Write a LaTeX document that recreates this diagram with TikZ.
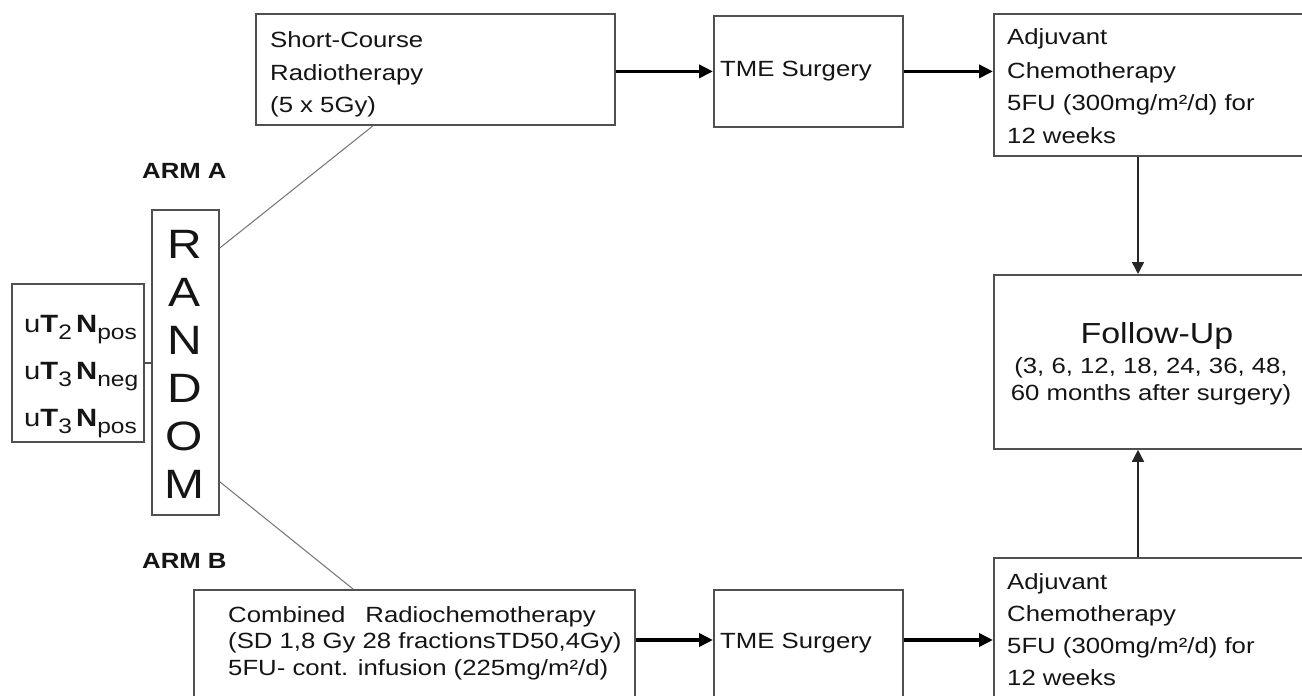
\documentclass[tikz,border=0pt]{standalone}
\usepackage{fontspec}
\setmainfont{Liberation Sans}[FakeStretch=1.17]
\usetikzlibrary{arrows.meta,calc}
\definecolor{bord}{HTML}{505050}
\definecolor{txt}{HTML}{151515}
\newcommand{\sbx}[1]{\raisebox{-7pt}{\fontsize{21}{21}\selectfont #1}}
\begin{document}
\begin{tikzpicture}[x=1pt,y=-1pt,
  box/.style={draw=bord, line width=1.8pt, rectangle, inner sep=0pt, anchor=north west},
  lbl/.style={anchor=base west, inner sep=0pt, text=txt, font=\fontsize{22}{33}\selectfont},
  bigarrow/.style={line width=3.8pt, draw=black, -{Triangle[length=14pt,width=13pt]}},
  vline/.style={line width=1.5pt, draw=black!85, -{Triangle[length=12pt,width=12pt]}},
  diag/.style={line width=1pt, draw=bord!80},
  joinline/.style={line width=1.5pt, draw=bord}]
\useasboundingbox (0,0) rectangle (1302,696);
\clip (0,0) rectangle (1302,696);
\fill[white] (0,0) rectangle (1302,696);
% boxes
\node[box, minimum width=359pt, minimum height=111pt] (sc) at (255,13) {};
\node[box, minimum width=189pt, minimum height=111pt] (tme1) at (713,15) {};
\node[box, minimum width=330pt, minimum height=142pt] (adj1) at (993,13) {};
\node[box, minimum width=330pt, minimum height=174pt] (fu) at (993,274) {};
\node[box, minimum width=330pt, minimum height=160pt] (adj2) at (993,557) {};
\node[box, minimum width=441pt, minimum height=130pt] (comb) at (193,589) {};
\node[box, minimum width=189pt, minimum height=130pt] (tme2) at (713,589) {};
\node[box, minimum width=67pt, minimum height=305pt] (rand) at (151,209) {};
\node[box, minimum width=132pt, minimum height=158pt] (pat) at (11,283) {};
% connectors
\draw[bigarrow] (sc.east |- tme1.west) -- (tme1.west);
\draw[bigarrow] (tme1.east) -- (tme1.east -| adj1.west);
\draw[bigarrow] ($(comb.north east)+(0,51)$) -- ($(tme2.north west)+(0,51)$);
\draw[bigarrow] ($(tme2.north east)+(0,51)$) -- ($(adj2.north west)+(0,83)$);
\draw[vline] ($(adj1.south west)+(145,0)$) -- ($(fu.north west)+(145,0)$);
\draw[vline] ($(adj2.north west)+(145,0)$) -- ($(fu.south west)+(145,0)$);
\draw[joinline] (pat.east) -- (pat.east -| rand.west);
\draw[diag] ($(rand.north east)+(0,39)$) -- ($(sc.south west)+(118,0)$);
\draw[diag] ($(rand.south east)+(0,-34)$) -- ($(comb.north west)+(160,0)$);
% texts
\node[lbl] (sct) at (270,47) {\parbox[t]{330pt}{\raggedright Short-Course\\Radiotherapy\\(5 x 5Gy)}};
\node[lbl] (tme1t) at (720,76) {TME Surgery};
\node[lbl] (adj1t) at (1007,45) {\parbox[t]{290pt}{\raggedright Adjuvant\\Chemotherapy\\5FU (300mg/m²/d) for\\12 weeks}};
\node[lbl, font=\fontsize{22}{32}\selectfont] (adj2t) at (1007,589) {\parbox[t]{290pt}{\raggedright Adjuvant\\Chemotherapy\\5FU (300mg/m²/d) for\\12 weeks}};
\node[lbl, font=\fontsize{22}{26.5}\selectfont] (combt) at (228,622) {\parbox[t]{420pt}{\raggedright Combined\hspace{20pt}Radiochemotherapy\\(SD 1,8 Gy 28 fractionsTD50,4Gy)\\5FU- cont. infusion (225mg/m²/d)}};
\node[lbl] (tme2t) at (720,648) {TME Surgery};
\node[lbl, anchor=base, font=\fontsize{29}{29}\selectfont] (fut) at (1157,343) {Follow-Up};
\node[lbl, anchor=base, font=\fontsize{22}{27.5}\selectfont] (fud) at (1151,373) {\parbox[t]{300pt}{\centering (3, 6, 12, 18, 24, 36, 48,\\60 months after surgery)}};
\node[lbl, anchor=base, font=\fontsize{41}{48}\selectfont] (rt) at (184.5,258) {\parbox[t]{60pt}{\centering R\\A\\N\\D\\O\\M}};
\node[lbl, font=\fontsize{22}{22}\selectfont\bfseries] (arma) at (142,178) {ARM A};
\node[lbl, font=\fontsize{22}{22}\selectfont\bfseries] (armb) at (142,568) {ARM B};
\node[lbl, font=\fontsize{25}{47}\selectfont] (patt) at (24,332) {\parbox[t]{125pt}{\raggedright u\textbf{T}\sbx{2}\,\textbf{N}\sbx{pos}\\u\textbf{T}\sbx{3}\,\textbf{N}\sbx{neg}\\u\textbf{T}\sbx{3}\,\textbf{N}\sbx{pos}}};
\end{tikzpicture}
\end{document}
